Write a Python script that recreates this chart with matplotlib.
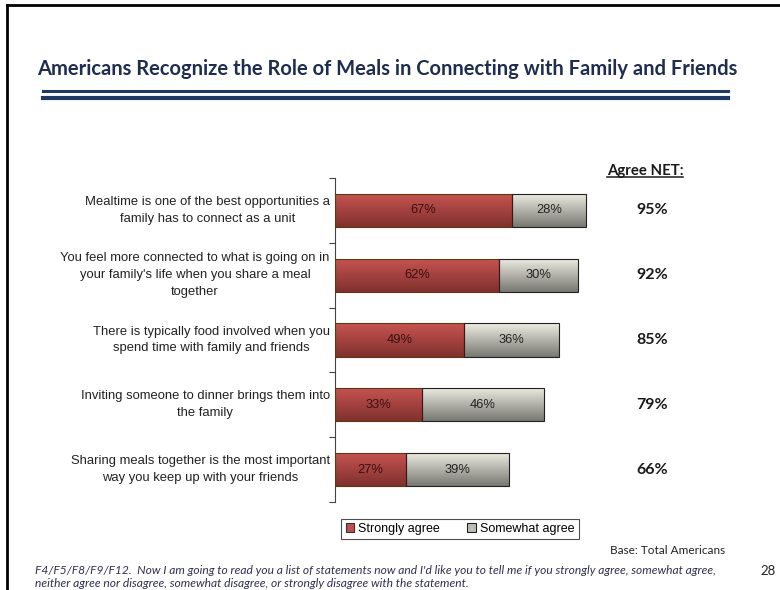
import matplotlib.pyplot as plt
import numpy as np
from matplotlib.patches import Rectangle
from matplotlib.lines import Line2D

statements = [
    "Mealtime is one of the best opportunities a\nfamily has to connect as a unit",
    "You feel more connected to what is going on in\nyour family's life when you share a meal\ntogether",
    "There is typically food involved when you\nspend time with family and friends",
    "Inviting someone to dinner brings them into\nthe family",
    "Sharing meals together is the most important\nway you keep up with your friends",
]
strongly_agree = [67, 62, 49, 33, 27]
somewhat_agree = [28, 30, 36, 46, 39]
agree_net = [95, 92, 85, 79, 66]

title = "Americans Recognize the Role of Meals in Connecting with Family and Friends"
footnote = ("F4/F5/F8/F9/F12.  Now I am going to read you a list of statements now and I'd like you to tell me if you "
            "strongly agree, somewhat agree,\nneither agree nor disagree, somewhat disagree, or strongly disagree with the statement.")

body = "Liberation Sans"
heavy = "Lato"

NAVY = "#1f3864"
RED_TOP, RED_BOT = np.array([0.78, 0.33, 0.32]), np.array([0.50, 0.19, 0.18])
GREY_TOP, GREY_BOT = np.array([0.93, 0.93, 0.89]), np.array([0.47, 0.47, 0.45])


def gradient_fill(ax, patch, top, bot):
    """Paint a vertical gradient inside a bar patch."""
    x0, y0 = patch.get_x(), patch.get_y()
    w, h = patch.get_width(), patch.get_height()
    t = np.linspace(0, 1, 64)[:, None]
    img = (top[None, :] * (1 - t) + bot[None, :] * t)[:, None, :]
    im = ax.imshow(img, extent=(x0, x0 + w, y0 + h, y0), aspect="auto",
                   zorder=patch.get_zorder() - 0.1, interpolation="bilinear")
    im.set_clip_path(patch)
    patch.set_facecolor("none")


def fit_width(fig, txt, width_px):
    """Shrink/grow a text's font size so it spans width_px pixels."""
    r = fig.canvas.get_renderer()
    w = txt.get_window_extent(r).width
    txt.set_fontsize(txt.get_fontsize() * width_px / w)


fig = plt.figure(figsize=(7.8, 5.9), dpi=100)

# page frame
fig.add_artist(Line2D([7 / 780, 7 / 780], [0, 1 - 5 / 590], transform=fig.transFigure, color="black", lw=2))
fig.add_artist(Line2D([7 / 780, 1], [1 - 5 / 590, 1 - 5 / 590], transform=fig.transFigure, color="black", lw=2))

t_title = fig.text(37 / 780, 1 - 69 / 590, title, fontsize=13, fontweight="bold", family=heavy,
                   color="#1f2d4e", va="center", ha="left")
fit_width(fig, t_title, 700)
for yy, lw in [(91, 2.2), (98, 3.0)]:
    fig.add_artist(Line2D([43 / 780, 728 / 780], [1 - yy / 590, 1 - yy / 590],
                          transform=fig.transFigure, color=NAVY, lw=lw))

ax = fig.add_axes([335 / 780, 1 - 502 / 590, 264 / 780, 324 / 590])
y = np.arange(len(statements))
b1 = ax.barh(y, strongly_agree, height=0.51, color="#c0504d", edgecolor="#5a3a10", lw=0.8, zorder=3)
b2 = ax.barh(y, somewhat_agree, left=strongly_agree, height=0.51, color="#d8d8d0",
             edgecolor="#222222", lw=0.8, zorder=3)
for p in b1:
    gradient_fill(ax, p, RED_TOP, RED_BOT)
for p in b2:
    gradient_fill(ax, p, GREY_TOP, GREY_BOT)

for i in range(len(statements)):
    ax.text(strongly_agree[i] / 2, i, f"{strongly_agree[i]}%", ha="center", va="center",
            fontsize=9.3, family=body, color="#3a1010", zorder=5)
    ax.text(strongly_agree[i] + somewhat_agree[i] / 2, i, f"{somewhat_agree[i]}%", ha="center",
            va="center", fontsize=9.3, family=body, color="#222222", zorder=5)
    ax.text(120, i, f"{agree_net[i]}%", ha="center", va="center", fontsize=11.5,
            fontweight="bold", family=heavy, color="#1a1a1a", clip_on=False)
    ax.text(-2, i, statements[i], ha="right", va="center", multialignment="center",
            fontsize=9.4, family=body, color="#222222", linespacing=1.55)

hdr = ax.text(117.5, -0.55, "Agree NET:", ha="center", va="baseline", fontsize=12, fontweight="bold",
              family=heavy, color="#1a1a1a", clip_on=False)
fit_width(fig, hdr, 76)
ax.add_artist(Line2D([103.2, 132.0], [-0.52, -0.52], color="#1a1a1a", lw=1.1, clip_on=False))

ax.set_xlim(0, 100)
ax.set_ylim(len(statements) - 0.5, -0.5)
for s in ["top", "right", "bottom"]:
    ax.spines[s].set_visible(False)
ax.spines["left"].set_color("#444444")
ax.set_xticks([])
ax.set_yticks(np.arange(-0.5, len(statements)))
ax.set_yticklabels([])
ax.tick_params(axis="y", length=4, color="#444444")

handles = [Rectangle((0, 0), 1, 1, fc="#c0504d", ec="#333333", lw=0.8),
           Rectangle((0, 0), 1, 1, fc="#bdbdb5", ec="#222222", lw=0.8)]
leg = fig.legend(handles, ["Strongly agree", "Somewhat agree"], loc="center",
                 bbox_to_anchor=(460 / 780, 1 - 529 / 590), ncol=2, frameon=True, fancybox=False,
                 prop={"family": body, "size": 9}, handlelength=0.7, handleheight=0.7,
                 handletextpad=0.3, columnspacing=2.2, borderpad=0.35)
leg.get_frame().set_edgecolor("#222222")
leg.get_frame().set_linewidth(0.8)

base = fig.text(725 / 780, 1 - 551 / 590, "Base: Total Americans", ha="right", va="center",
                fontsize=9, family=heavy, color="#222222")
fit_width(fig, base, 115)
note = fig.text(35 / 780, 1 - 577 / 590, footnote, ha="left", va="center", fontsize=7.2,
                family=heavy, style="italic", color="#303050", linespacing=1.3)
fit_width(fig, note, 683)
fig.text(768 / 780, 1 - 571 / 590, "28", ha="center", va="center", fontsize=9.5,
         family=heavy, color="#222222")

fig.savefig("out.png", dpi=100)
